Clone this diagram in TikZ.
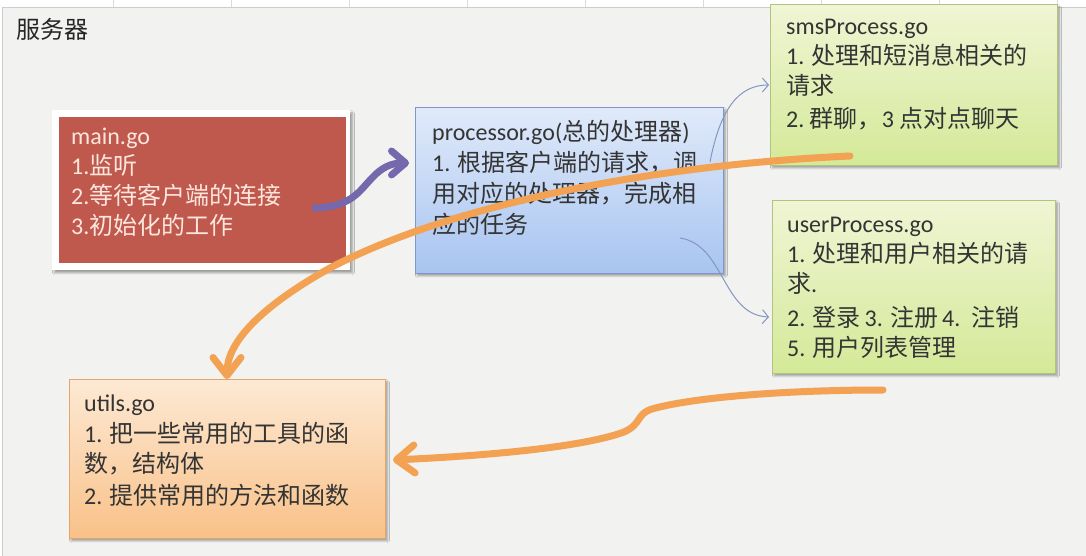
\documentclass[tikz,border=0pt]{standalone}
\usepackage{fontspec}
\setmainfont{Carlito}
\newfontfamily\cjkfont{Noto Sans CJK SC}
\newcommand{\zh}[1]{{\cjkfont #1}}
\usetikzlibrary{arrows.meta,shadows.blur,calc}
\definecolor{bgc}{RGB}{242,242,240}
\definecolor{bgedge}{RGB}{205,205,205}
\definecolor{gridc}{RGB}{218,218,218}
\definecolor{mainred}{RGB}{192,89,77}
\definecolor{maintxt}{RGB}{252,230,222}
\definecolor{txtc}{RGB}{52,52,52}
\definecolor{proctop}{RGB}{224,234,250}
\definecolor{procbot}{RGB}{168,196,240}
\definecolor{procedge}{RGB}{125,152,200}
\definecolor{greentop}{RGB}{240,245,212}
\definecolor{greenbot}{RGB}{212,233,152}
\definecolor{greenedge}{RGB}{175,196,125}
\definecolor{orgtop}{RGB}{253,233,212}
\definecolor{orgbot}{RGB}{249,193,136}
\definecolor{orgedge}{RGB}{228,165,105}
\definecolor{orgline}{RGB}{242,162,82}
\definecolor{purline}{RGB}{118,104,172}
\definecolor{thinline}{RGB}{133,150,192}
\begin{document}
\begin{tikzpicture}[x=1pt,y=-1pt,
  box/.style={anchor=north west, inner sep=0pt, line width=0.8pt,
    blur shadow={shadow xshift=2pt, shadow yshift=-2.5pt, shadow blur steps=6, shadow opacity=35}},
  txt/.style={anchor=north west, inner sep=0pt, align=left, text=txtc,
    font=\fontsize{24}{30}\selectfont},
  orgarrow/.style={draw=orgline, line width=7pt, line cap=round,
    -{Straight Barb[length=18pt,width=28pt,round]}},
  purarrow/.style={draw=purline, line width=7pt, line cap=round,
    -{Straight Barb[length=14pt,width=24pt,round]}},
  thinarrow/.style={draw=thinline, line width=1pt,
    -{Straight Barb[length=6pt,width=14pt]}}
]
\useasboundingbox (0,0) rectangle (1086,556);
\fill[white] (0,0) rectangle (1086,556);
\foreach \gx in {113,231,349,467,585,703,821,939,1057}
  \draw[gridc, line width=0.8pt] (\gx,0) -- (\gx,8);
\draw[fill=bgc, draw=bgedge, line width=0.8pt] (2,7) rectangle (1092,562);

\node[anchor=base west, inner sep=0pt, text=black!85,
  font=\fontsize{24}{30}\selectfont] (title) at (16,39) {\zh{服务器}};

% main.go
\node[box, fill=white, minimum width=298pt, minimum height=160pt] (mainframe) at (52,110) {};
\node[anchor=north west, inner sep=0pt, fill=mainred, minimum width=287pt, minimum height=146pt] (main) at (58.5,117) {};
\node[txt, text=maintxt] (maintext) at (71,144-22) {\rule{0pt}{22pt}main.go\\1.\zh{监听}\\2.\zh{等待客户端的连接}\\3.\zh{初始化的工作}};

% processor.go
\node[box, draw=procedge, top color=proctop, bottom color=procbot,
  minimum width=308pt, minimum height=166pt] (proc) at (415,107) {};
\node[txt, font=\fontsize{24}{31}\selectfont] (proctext) at (432,140-22) {\rule{0pt}{22pt}processor.go(\zh{总的处理器})\\1. \zh{根据客户端的请求，调}\\\zh{用对应的处理器，完成相}\\\zh{应的任务}};

% smsProcess.go
\node[box, draw=greenedge, top color=greentop, bottom color=greenbot,
  minimum width=287pt, minimum height=161pt] (sms) at (770,4) {};
\node[txt] (smstext) at (786,34-22) {\rule{0pt}{22pt}smsProcess.go\\1. \zh{处理和短消息相关的}\\\zh{请求}\\[3pt]2.\ \zh{群聊，}3 \zh{点对点聊天}};

% userProcess.go
\node[box, draw=greenedge, top color=greentop, bottom color=greenbot,
  minimum width=283pt, minimum height=173pt] (user) at (772,200) {};
\node[txt] (usertext) at (787,232-22) {\rule{0pt}{22pt}userProcess.go\\1. \zh{处理和用户相关的请}\\\zh{求}.\\[4pt]2. \zh{登录}\,3. \zh{注册}\,4.\ \ \zh{注销}\\5. \zh{用户列表管理}};

% utils.go
\node[box, draw=orgedge, top color=orgtop, bottom color=orgbot,
  minimum width=316pt, minimum height=159pt] (utils) at (69,379) {};
\node[txt] (utilstext) at (84,411-22) {\rule{0pt}{22pt}utils.go\\[1pt]1. \zh{把一些常用的工具的函}\\\zh{数，结构体}\\[2pt]2. \zh{提供常用的方法和函数}};

% connector end points
\coordinate (pA) at (315,208);
\coordinate (pB) at (409,163);
\coordinate (oA) at (850,156);
\coordinate (oM) at (330,268);
\coordinate (oB) at (227,379);
\coordinate (qA) at (883,390);
\coordinate (qB) at (393,460);
\coordinate (tA) at (710,162);
\coordinate (tB) at (769,85);
\coordinate (uA) at (680,238);
\coordinate (uB) at (769,317);

% thin arrows
\draw[thinarrow] (tA) .. controls (720,110) and (738,85) .. (tB);
\draw[thinarrow] (uA) .. controls (725,245) and (722,315) .. (uB);

% purple arrow main -> processor
\draw[purarrow] (pA) .. controls (352,207) and (360,190) .. (372,178)
  .. controls (382,167) and (392,163) .. (pB);

% orange arrows
\draw[orgarrow] (oA) .. controls (650,165) and (450,205) .. (oM)
  .. controls (255,310) and (227,345) .. (oB);
\draw[orgarrow] (qA) .. controls (780,390) and (690,398) .. (652,409)
  .. controls (636,414) and (642,424) .. (624,432)
  .. controls (580,448) and (480,456) .. (qB);
\end{tikzpicture}
\end{document}
